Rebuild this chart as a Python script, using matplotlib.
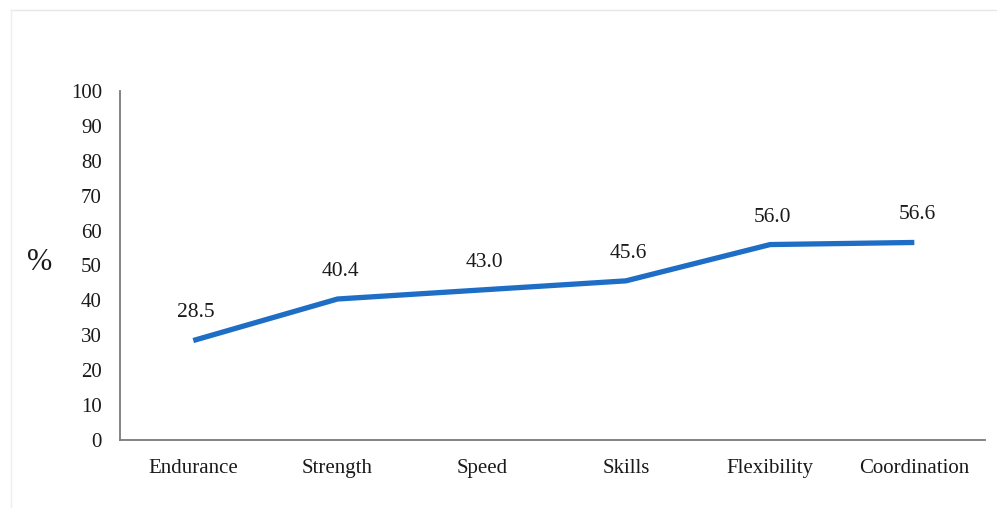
import matplotlib.pyplot as plt
from matplotlib.lines import Line2D

# fitness components and share of respondents (%)
categories = ["Endurance", "Strength", "Speed", "Skills", "Flexibility", "Coordination"]
values = [28.5, 40.4, 43.0, 45.6, 56.0, 56.6]
y_ticks = list(range(0, 101, 10))

plt.rcParams['font.family'] = ['Liberation Serif', 'DejaVu Serif']

fig = plt.figure(figsize=(9.97, 5.08), dpi=100)
ax = fig.add_axes([120 / 997, 68 / 508, (985 - 120) / 997, (440 - 91) / 508])

x = list(range(len(categories)))
ax.plot(x, values, color='#1f6ec6', linewidth=3.8, solid_capstyle='butt')
for xi, v in zip(x, values):
    ax.annotate(f"{v:.1f}", (xi, v), xytext=(2, 13), textcoords='offset points',
                ha='center', va='bottom', fontsize=15.5, color='#1a1a1a')

ax.set_xlim(-0.508, 5.49)
ax.set_ylim(0, 100)
ax.set_yticks(y_ticks)
ax.set_xticks(x)
ax.set_xticklabels(categories)
ax.tick_params(axis='both', length=0, labelsize=15, colors='#1a1a1a')
ax.tick_params(axis='y', pad=13)
ax.tick_params(axis='x', pad=14)

for side in ['top', 'right']:
    ax.spines[side].set_visible(False)
for side in ['left', 'bottom']:
    ax.spines[side].set_color('#7a7a7a')
    ax.spines[side].set_linewidth(1.3)

fig.text(40 / 997, 1 - 263 / 508, "%", fontsize=22, ha='center', va='center', color='#1a1a1a')

# thin frame lines along the top and left edges
fig.add_artist(Line2D([11 / 997, 1], [1 - 10 / 508, 1 - 10 / 508], color='#e6e6e6', linewidth=1))
fig.add_artist(Line2D([11 / 997, 11 / 997], [0, 1 - 10 / 508], color='#ededed', linewidth=1))

fig.savefig("out.png", dpi=100)
